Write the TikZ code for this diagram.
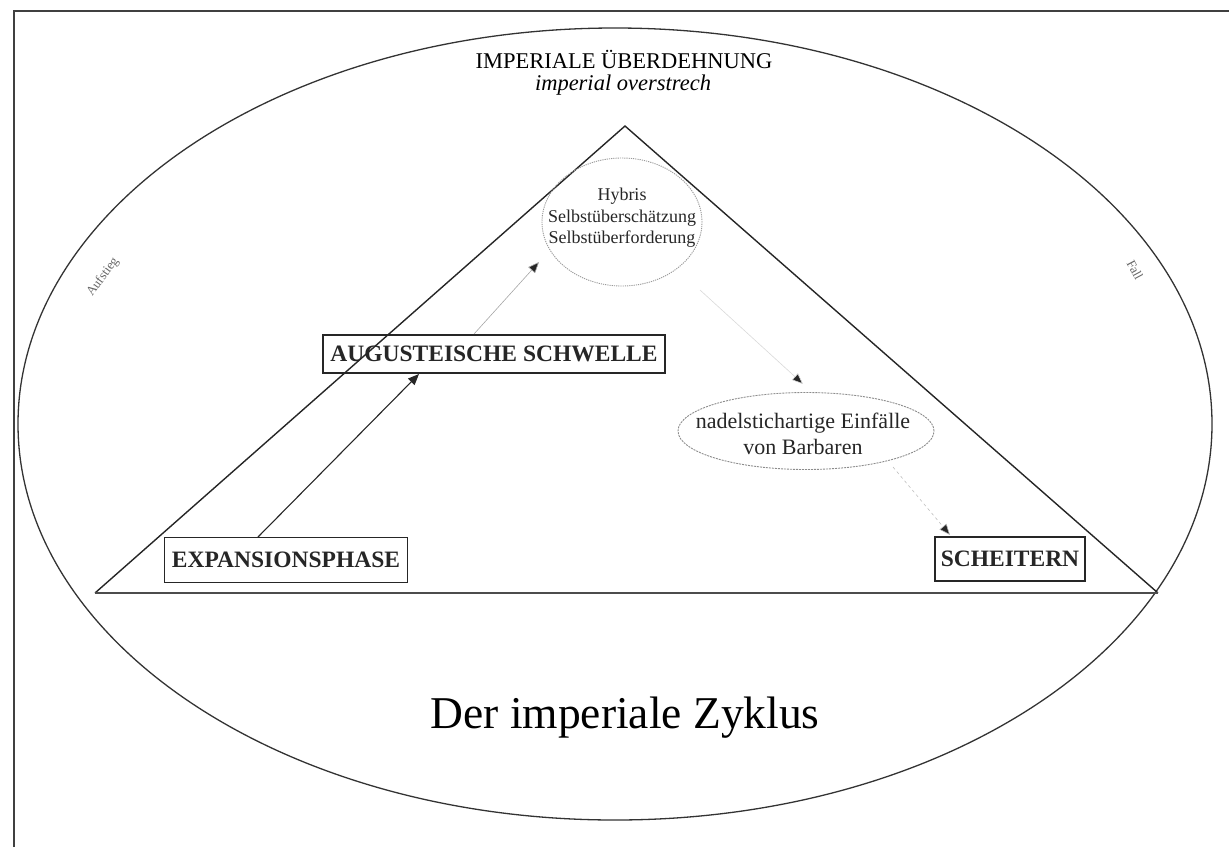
\documentclass[tikz,border=0pt]{standalone}
\usepackage{fontspec}
\setmainfont{Liberation Serif}
\usetikzlibrary{shapes.geometric,arrows.meta}
\begin{document}
\begin{tikzpicture}[x=1pt,y=-1pt,
  boxnode/.style={draw=black!85,line width=1.3pt,inner sep=0pt,font=\fontsize{23.5}{25}\selectfont\bfseries,text=black!85},
  ovalnode/.style={ellipse,draw=black!45,dashed,dash pattern=on 2pt off 1pt,line width=0.9pt,inner sep=0pt},
  flow/.style={line width=1.1pt,-{Triangle[length=11pt,width=9pt]}},
  lightflow/.style={line width=0.6pt,draw=black!35,-{Triangle[length=11pt,width=9pt,fill=black!85]}},
  sidelabel/.style={font=\fontsize{13}{14}\selectfont,text=black!60}]
\useasboundingbox (0,0) rectangle (1229,847);
% partial frame
\draw[line width=1.4pt,black!75] (14,847) -- (14,11) -- (1229,11);
% outer ellipse
\draw[line width=1.3pt,black!80] (615,424) ellipse [x radius=597,y radius=396];
% triangle
\coordinate (apex) at (625,126);
\coordinate (bl) at (95,593);
\coordinate (br) at (1158,593);
\draw[line width=1.4pt,black!85] (bl) -- (apex) -- (br);
\draw[line width=1.4pt,black!70] (bl) -- (br);
% top labels
\node (top1) at (624,59) {\fontsize{22.5}{24}\selectfont IMPERIALE ÜBERDEHNUNG};
\node (top2) at (623,85) {\fontsize{22.5}{24}\selectfont\itshape imperial overstrech};
% side labels
\node[sidelabel,rotate=54] (auf) at (103,277) {Aufstieg};
\node[sidelabel,rotate=-62] (fall) at (1135,270) {Fall};
% hybris circle
\node[ellipse,draw=black!40,dash pattern=on 1.2pt off 1pt,line width=0.9pt,minimum width=160pt,minimum height=128pt,inner sep=0pt] (hyb) at (622,222) {};
\node[align=center,font=\fontsize{18}{21.5}\selectfont,text=black!85] (hybt) at (622,218) {Hybris\\Selbstüberschätzung\\Selbstüberforderung};
% boxes
\node[boxnode,minimum width=342pt,minimum height=38pt] (aug) at (494,354) {AUGUSTEISCHE SCHWELLE};
\node[boxnode,minimum width=243pt,minimum height=45pt] (exp) at (286,560) {EXPANSIONSPHASE};
\node[boxnode,minimum width=150pt,minimum height=44pt] (sch) at (1010,559) {SCHEITERN};
% barbarians
\node[ovalnode,minimum width=256pt,minimum height=77pt] (barb) at (806,431) {};
\node[align=center,font=\fontsize{22}{26}\selectfont,text=black!85] (barbt) at (803,434) {nadelstichartige Einfälle\\von Barbaren};
% title
\node (title) at (625,718) {\fontsize{45.5}{48}\selectfont Der imperiale Zyklus};
% arrows
\coordinate (a1s) at (258,537);
\draw[flow,black!85] (a1s) -- (419,374);
\coordinate (a2s) at (474,334);
\draw[lightflow] (a2s) -- (539,262);
\coordinate (a3s) at (700,290);
\draw[lightflow,draw=black!15] (a3s) -- (803,384);
\coordinate (a4s) at (893,467);
\draw[lightflow,draw=black!25,dashed] (a4s) -- (950,535);
\end{tikzpicture}
\end{document}
